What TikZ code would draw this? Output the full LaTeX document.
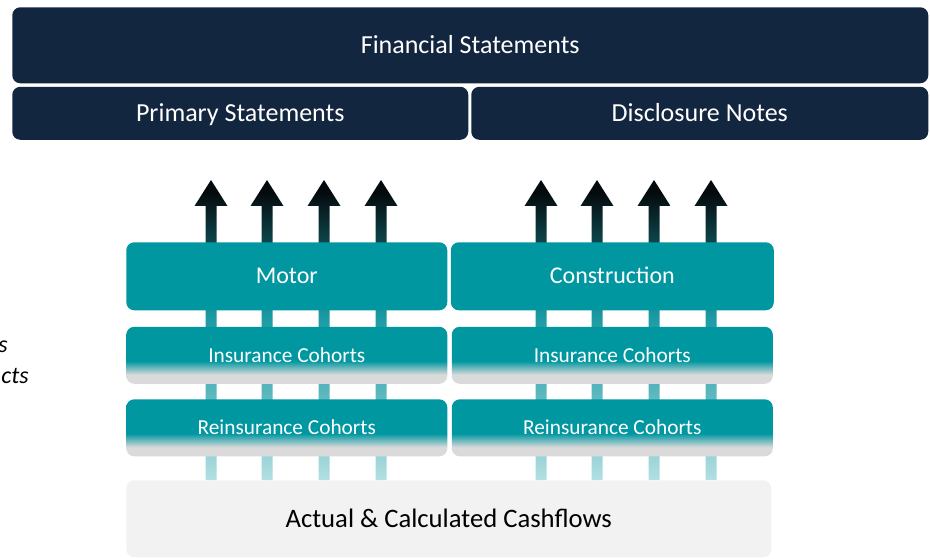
\documentclass[tikz,border=0pt]{standalone}
\usepackage{fontspec}
\setmainfont{Carlito}
\usepackage{tikz}
\usetikzlibrary{positioning,backgrounds,calc}

\definecolor{navy}{HTML}{13263F}
\definecolor{tealc}{HTML}{0097A1}
\definecolor{fadegray}{HTML}{DADADA}
\definecolor{cashgray}{HTML}{F2F2F2}
\definecolor{flowtop}{HTML}{050A0D}
\definecolor{flowdark}{HTML}{0C4449}
\definecolor{flowmid}{HTML}{1C9BA4}
\definecolor{flowpale}{HTML}{58B6BD}
\definecolor{flowlight}{HTML}{B2DFE2}

\pgfdeclareverticalshading{cohortfade}{100bp}{color(0bp)=(fadegray); color(33bp)=(fadegray); color(45bp)=(tealc); color(100bp)=(tealc)}
\pgfdeclareverticalshading{flowfade}{100bp}{color(0bp)=(flowlight); color(25bp)=(flowlight); color(40bp)=(flowpale); color(52bp)=(flowmid); color(65bp)=(flowdark); color(73bp)=(flowtop); color(100bp)=(flowtop)}

\begin{document}
\begin{tikzpicture}[
  x=0.75pt, y=-0.75pt,
  box/.style={rectangle, rounded corners=6pt, inner sep=0pt, align=center, text depth=0pt},
  navybox/.style={box, fill=navy, text=white, text height=12.3pt, font=\fontsize{19.5}{23}\selectfont},
  portbox/.style={box, fill=tealc, text=white, minimum width=240.75pt, minimum height=51pt, text height=11.3pt, font=\fontsize{18}{21}\selectfont},
  cohortbox/.style={box, shading=cohortfade, text=white, minimum width=240.75pt, minimum height=42.75pt, text height=10.1pt, font=\fontsize{16}{19}\selectfont},
  cashbox/.style={box, fill=cashgray, text=black, minimum width=483.75pt, minimum height=57.75pt, text height=12.6pt, font=\fontsize{20}{24}\selectfont},
  sidenote/.style={font=\fontsize{18}{21}\selectfont\itshape, inner sep=0pt},
  flow/.style={shading=flowfade}
]
\useasboundingbox (0,0) rectangle (930,559);

% Reporting
\node[navybox, minimum width=687pt, minimum height=57pt, anchor=north west] (fin) at (12,7) {Financial Statements};
\node[navybox, minimum width=342pt, minimum height=39.75pt, below right=2.25pt and 0pt of fin.south west] (prim) {Primary Statements};
\node[navybox, minimum width=342.75pt, minimum height=39.75pt, below left=2.25pt and 0pt of fin.south east] (disc) {Disclosure Notes};

% Portfolios
\node[portbox, anchor=north west] (motor) at (126,242) {Motor};
\node[portbox, minimum width=242.25pt, right=2.25pt of motor] (constr) {Construction};

% Cohorts
\node[cohortbox, below=12pt of motor] (insM) {Insurance Cohorts};
\node[cohortbox, below=11.25pt of insM] (reinsM) {Reinsurance Cohorts};
\node[cohortbox, below=12pt of constr] (insC) {Insurance Cohorts};
\node[cohortbox, below=11.25pt of insC] (reinsC) {Reinsurance Cohorts};

% Cashflows
\node[cashbox, anchor=north west] (cash) at (126,480) {Actual \& Calculated Cashflows};

% Side text (cut off)
\node[sidenote, anchor=base east] (sideA) at (8,352) {s};
\node[sidenote, anchor=base east] (sideB) at (29,383) {cts};

% Flow arrows
\begin{scope}[on background layer]
\foreach \x [count=\i] in {211,267,324,381,541,597,654,711} {
  \coordinate (tip\i) at (\x,180);
  \coordinate (foot\i) at (tip\i |- cash.north);
  \shade[flow] (tip\i) -- ++(16.5,26) -- ++(-11,0) -- ([xshift=4.125pt]foot\i)
    -- ([xshift=-4.125pt]foot\i) -- ($(tip\i)+(-5.5,26)$) -- ++(-11,0) -- cycle;
}
\end{scope}
\end{tikzpicture}
\end{document}
